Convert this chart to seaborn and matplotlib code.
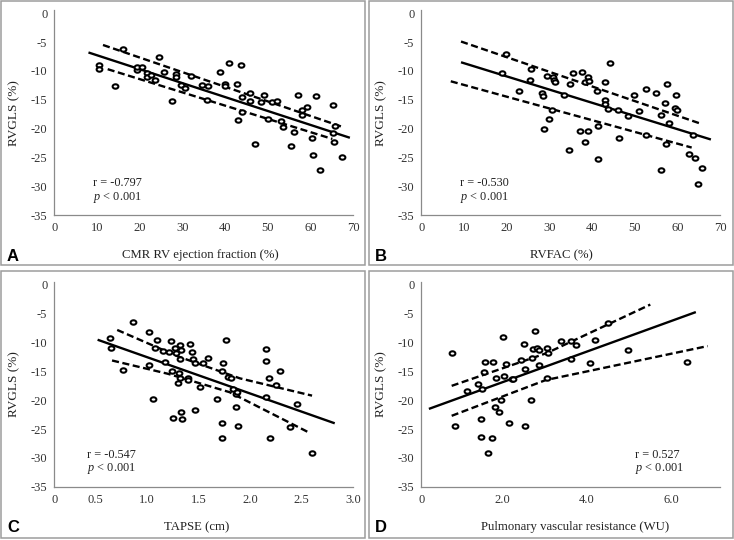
import numpy as np
import matplotlib
matplotlib.use("Agg")
import matplotlib.pyplot as plt
import seaborn as sns
from matplotlib.patches import Rectangle
from matplotlib.path import Path

# ---------------- data ----------------
a_x = [10.4, 10.4, 14.3, 16.2, 19.3, 19.4, 20.5, 21.6, 21.6, 22.7, 23.5, 24.6, 25.6, 27.5,
       28.4, 28.4, 29.7, 30.5, 31.9, 34.6, 35.8, 36.0, 38.8, 39.9, 40.0, 40.8, 42.7, 43.0,
       43.8, 43.9, 44.0, 45.7, 45.7, 46.9, 48.3, 49.1, 50.0, 50.9, 52.2, 53.1, 53.5, 55.3,
       56.2, 57.1, 58.1, 58.1, 59.2, 60.3, 60.5, 61.3, 62.1, 65.3, 65.3, 65.5, 65.6, 67.4]
a_y = [-9.0, -9.7, -12.7, -6.2, -9.9, -9.4, -9.4, -10.3, -11.1, -10.7, -11.6, -7.5, -10.2, -15.2,
       -10.5, -11.0, -12.4, -13.0, -10.9, -12.4, -15.0, -12.7, -10.2, -12.3, -12.6, -8.6, -12.3, -18.6,
       -8.9, -14.5, -17.2, -13.8, -15.2, -22.7, -15.4, -14.1, -18.3, -15.4, -15.2, -18.7, -19.8, -23.0,
       -20.6, -14.2, -16.7, -17.7, -16.2, -21.6, -24.6, -14.4, -27.2, -15.9, -20.8, -22.4, -19.5, -24.9]
a_fit_x, a_fit_y = [8.0, 69.2], [-6.8, -21.6]
a_hi_x, a_hi_y = [11.4, 67.8], [-5.5, -19.8]
a_lo_x, a_lo_y = [12.5, 65.1], [-9.7, -21.8]

b_x = [18.8, 19.8, 22.8, 25.5, 25.7, 28.2, 28.4, 28.7, 29.5, 29.9, 30.6, 30.9, 31.0, 31.2,
       33.4, 34.5, 34.9, 35.5, 37.2, 37.7, 38.3, 38.4, 39.0, 39.1, 39.3, 41.2, 41.3, 41.4,
       43.0, 43.0, 43.1, 43.7, 44.2, 46.0, 46.2, 48.4, 49.9, 51.0, 52.5, 52.6, 54.9, 56.1,
       56.1, 57.1, 57.4, 57.5, 58.0, 59.4, 59.6, 59.9, 62.6, 63.7, 64.1, 64.7, 65.6]
b_y = [-10.3, -7.1, -13.5, -11.5, -9.7, -13.9, -14.3, -20.0, -10.8, -18.4, -16.8, -11.1, -11.6, -11.9,
       -14.1, -23.7, -12.3, -10.3, -20.4, -10.2, -22.4, -11.9, -20.4, -11.1, -11.7, -13.4, -19.5, -25.2,
       -15.0, -15.8, -12.0, -16.6, -8.7, -16.7, -21.7, -17.9, -14.2, -16.9, -21.1, -13.1, -13.9, -27.2,
       -17.6, -15.6, -22.7, -12.3, -19.0, -16.4, -14.1, -16.8, -24.4, -21.2, -25.1, -29.7, -26.8]
b_fit_x, b_fit_y = [9.3, 67.8], [-8.5, -21.9]
b_hi_x, b_hi_y = [9.3, 65.2], [-4.9, -19.1]
b_lo_x, b_lo_y = [6.9, 63.3], [-11.8, -23.3]

c_x = [0.64, 0.65, 0.77, 0.86, 1.02, 1.02, 1.06, 1.08, 1.10, 1.15, 1.17, 1.21, 1.23, 1.24,
       1.25, 1.27, 1.28, 1.30, 1.31, 1.32, 1.32, 1.32, 1.33, 1.33, 1.34, 1.40, 1.40, 1.42,
       1.44, 1.45, 1.46, 1.46, 1.51, 1.54, 1.59, 1.68, 1.73, 1.73, 1.73, 1.74, 1.77, 1.78,
       1.81, 1.83, 1.86, 1.86, 1.87, 1.88, 2.15, 2.15, 2.15, 2.18, 2.19, 2.25, 2.29, 2.39,
       2.45, 2.60]
c_y = [-9.2, -11.0, -14.7, -6.5, -8.1, -13.9, -19.8, -11.0, -9.6, -11.4, -13.3, -11.6, -9.8, -14.9,
       -23.1, -11.0, -11.8, -17.0, -15.3, -10.4, -12.9, -16.1, -11.3, -22.1, -23.2, -16.1, -16.5, -10.3,
       -11.7, -12.9, -13.6, -21.7, -17.7, -13.5, -12.6, -19.8, -15.0, -24.0, -26.6, -13.6, -9.6, -15.9,
       -16.2, -18.0, -18.9, -21.1, -18.6, -24.4, -19.5, -11.1, -13.2, -16.2, -26.5, -17.3, -15.0, -24.6,
       -20.7, -29.1]
c_fit_x, c_fit_y = [0.52, 2.82], [-9.5, -24.0]
c_hi_x, c_hi_y = [0.71, 1.3, 1.9, 2.6], [-7.8, -12.4, -16.2, -19.2]
c_lo_x, c_lo_y = [0.66, 1.2, 1.8, 2.57], [-13.1, -15.4, -18.6, -25.6]

d_x = [0.80, 0.89, 1.17, 1.43, 1.49, 1.50, 1.52, 1.57, 1.60, 1.66, 1.76, 1.79, 1.82, 1.84,
       1.92, 1.98, 2.02, 2.05, 2.08, 2.16, 2.22, 2.26, 2.45, 2.51, 2.55, 2.55, 2.67, 2.70,
       2.74, 2.77, 2.82, 2.86, 2.86, 3.05, 3.06, 3.08, 3.39, 3.62, 3.63, 3.76, 4.08, 4.20,
       4.51, 4.99, 6.37]
d_y = [-11.8, -24.4, -18.4, -17.2, -26.3, -23.3, -18.0, -15.1, -13.3, -29.2, -26.6, -13.3, -21.1, -16.1,
       -22.1, -19.9, -9.1, -15.8, -13.7, -23.9, -16.3, -16.3, -13.0, -10.2, -14.6, -24.4, -20.0, -12.6,
       -11.1, -8.0, -10.9, -11.3, -13.8, -16.2, -10.9, -11.8, -9.8, -9.8, -12.9, -10.5, -13.6, -9.5,
       -6.6, -11.3, -13.3]
d_fit_x, d_fit_y = [0.26, 6.59], [-21.5, -4.7]
d_hi_x, d_hi_y = [0.80, 3.06, 5.51], [-17.5, -11.8, -3.4]
d_lo_x, d_lo_y = [0.80, 3.03, 6.87], [-22.7, -16.5, -10.6]

letters = ["A", "B", "C", "D"]
xlabels = ["CMR RV ejection fraction (%)", "RVFAC (%)", "TAPSE (cm)",
           "Pulmonary vascular resistance (WU)"]
ylabel = "RVGLS (%)"
r_texts = ["r = -0.797", "r = -0.530", "r = -0.547", "r = 0.527"]
p_text = "$p$ < 0.001"
yticks = [0, -5, -10, -15, -20, -25, -30, -35]
xticks_ab = [0, 10, 20, 30, 40, 50, 60, 70]
xticklabels_ab = ["0", "10", "20", "30", "40", "50", "60", "70"]
xticks_c = [0.1, 0.5, 1.0, 1.5, 2.0, 2.5, 3.0]
xticklabels_c = ["0", "0.5", "1.0", "1.5", "2.0", "2.5", "3.0"]
xticks_d = [0.08, 1, 2, 3, 4, 5, 6, 7.1]
xticklabels_d = ["0", "", "2.0", "", "4.0", "", "6.0", ""]

# ---------------- style ----------------
sns.set_theme(style="white")
plt.rcParams["font.family"] = ["Liberation Serif", "DejaVu Serif"]
plt.rcParams["axes.unicode_minus"] = False
plt.rcParams["mathtext.fontset"] = "custom"
plt.rcParams["mathtext.rm"] = "Liberation Serif"
plt.rcParams["mathtext.it"] = "Liberation Serif:italic"

W, H = 734, 540
fig = plt.figure(figsize=(W / 100, H / 100), dpi=100)
fig.patch.set_facecolor("white")

t = np.linspace(0, 2 * np.pi, 41)
ellipse = Path(np.column_stack([1.3 * np.cos(t), np.sin(t)]), closed=True)

panels = [
    dict(x=a_x, y=a_y, fit=(a_fit_x, a_fit_y), hi=(a_hi_x, a_hi_y), lo=(a_lo_x, a_lo_y),
         xlim=(0, 70), xt=xticks_ab, xtl=xticklabels_ab, px=(54.3, 10.4), frame=(1, 1),
         rpos=(0.13, 0.155), xlab=0.49),
    dict(x=b_x, y=b_y, fit=(b_fit_x, b_fit_y), hi=(b_hi_x, b_hi_y), lo=(b_lo_x, b_lo_y),
         xlim=(0, 70), xt=xticks_ab, xtl=xticklabels_ab, px=(421.3, 10.4), frame=(369, 1),
         rpos=(0.13, 0.155), xlab=0.47),
    dict(x=c_x, y=c_y, fit=(c_fit_x, c_fit_y), hi=(c_hi_x, c_hi_y), lo=(c_lo_x, c_lo_y),
         xlim=(0.1, 3.0), xt=xticks_c, xtl=xticklabels_c, px=(54.3, 282.1), frame=(1, 271),
         rpos=(0.11, 0.156), xlab=0.475),
    dict(x=d_x, y=d_y, fit=(d_fit_x, d_fit_y), hi=(d_hi_x, d_hi_y), lo=(d_lo_x, d_lo_y),
         xlim=(0.08, 7.17), xt=xticks_d, xtl=xticklabels_d, px=(421.3, 282.1), frame=(369, 271),
         rpos=(0.716, 0.156), xlab=0.515),
]

axw, axh = 299, 204.6
spine_col = "#8a8a8a"
for i, p in enumerate(panels):
    left, top = p["px"]
    ax = fig.add_axes([left / W, 1 - (top + axh) / H, axw / W, axh / H])
    ax.set_facecolor("white")
    ax.plot(p["fit"][0], p["fit"][1], color="black", lw=1.7, solid_capstyle="butt", zorder=2)
    for xs, ys in (p["hi"], p["lo"]):
        ax.plot(xs, ys, color="black", lw=1.7, dashes=(3.0, 1.5), zorder=2)
    sns.scatterplot(x=p["x"], y=p["y"], ax=ax, marker=ellipse, s=17, facecolor="white",
                    edgecolor="black", linewidth=1.5, zorder=3, legend=False)
    ax.set_xlim(*p["xlim"])
    ax.set_ylim(-35, 0.5)
    ax.set_yticks(yticks)
    ax.set_yticklabels([str(v) for v in yticks])
    ax.set_xticks(p["xt"])
    ax.set_xticklabels(p["xtl"])
    for s in ("top", "right"):
        ax.spines[s].set_visible(False)
    for s in ("left", "bottom"):
        ax.spines[s].set_color(spine_col)
        ax.spines[s].set_linewidth(0.9)
    ax.tick_params(axis="y", direction="out", length=3, width=0.8, color=spine_col,
                   labelsize=9, pad=2, labelcolor="#333333")
    ax.tick_params(axis="x", direction="in", length=3, width=0.8, color=spine_col,
                   labelsize=9, pad=5, labelcolor="#333333")
    ax.set_xlabel(xlabels[i], fontsize=9.2, color="#222222")
    ax.xaxis.set_label_coords(p["xlab"], -0.168)
    ax.set_ylabel(ylabel, fontsize=9.5, color="#222222")
    ax.yaxis.set_label_coords(-0.115, 0.5)
    ax.text(p["rpos"][0], p["rpos"][1], r_texts[i], transform=ax.transAxes, fontsize=8.8,
            ha="left", va="center", color="#222222")
    ax.text(p["rpos"][0], p["rpos"][1] - 0.068, p_text, transform=ax.transAxes, fontsize=8.8,
            ha="left", va="center", color="#222222")

    fx, fy = p["frame"]
    fig.patches.append(Rectangle((fx / W, 1 - (fy + (264 if fy < 100 else 267)) / H),
                                 364 / W, (264 if fy < 100 else 267) / H,
                                 transform=fig.transFigure, fill=False,
                                 edgecolor="#9c9c9c", lw=1.1))
    fig.text((fx + 12) / W, 1 - (fy + (256 if fy < 100 else 257)) / H, letters[i],
             fontfamily=["Liberation Sans Narrow", "Liberation Sans", "DejaVu Sans"],
             fontweight="bold", fontsize=12, ha="center", va="center", color="black")

fig.savefig("out.png", dpi=100, facecolor="white")
